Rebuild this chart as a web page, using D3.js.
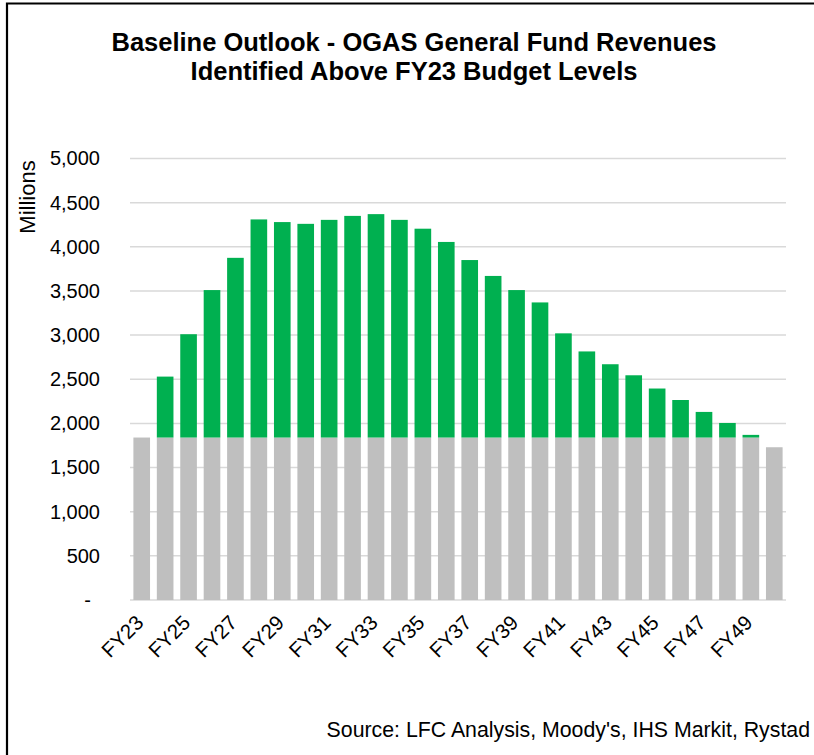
<!DOCTYPE html>
<html>
<head>
<meta charset="utf-8">
<script src="https://cdn.jsdelivr.net/npm/d3@7"></script>
<style>
    body { margin: 0; background: #fff; }
    svg { display: block; font-family: "Liberation Sans", Arial, sans-serif; }
</style>
</head>
<body>
<svg id="chart" width="814" height="755"></svg>
<script>
// fiscal years on the x axis
var years = ["FY23","FY24","FY25","FY26","FY27","FY28","FY29","FY30","FY31","FY32",
             "FY33","FY34","FY35","FY36","FY37","FY38","FY39","FY40","FY41","FY42",
             "FY43","FY44","FY45","FY46","FY47","FY48","FY49","FY50"];

// FY23 budget level part of each bar (grey), in millions
var budgetLevel = [1840,1840,1840,1840,1840,1840,1840,1840,1840,1840,
                   1840,1840,1840,1840,1840,1840,1840,1840,1840,1840,
                   1840,1840,1840,1840,1840,1840,1840,1730];

// revenues identified above the FY23 budget level (green), in millions
var aboveBudget = [0,690,1170,1670,2035,2470,2440,2420,2465,2510,
                   2530,2465,2365,2215,2010,1830,1670,1530,1180,975,
                   830,705,555,425,290,165,30,0];

var yTicks = [0,500,1000,1500,2000,2500,3000,3500,4000,4500,5000];
var xLabels = ["FY23","FY25","FY27","FY29","FY31","FY33","FY35","FY37","FY39","FY41","FY43","FY45","FY47","FY49"];

function drawChart() {

    var svg = d3.select("#chart");

    // plot area (window.top is reserved, so no plain "top" name here)
    var plotLeft = 130, plotRight = 786, plotTop = 158.5, plotBottom = 600;

    var rows = years.map(function (y, i) {
        return { year: y, base: budgetLevel[i], above: aboveBudget[i] };
    });

    var series = d3.stack().keys(["base", "above"])(rows);
    var colors = { base: "#BFBFBF", above: "#00B050" };

    var xScale = d3.scaleBand()
        .domain(years)
        .range([plotLeft, plotRight])
        .paddingInner(0.29)
        .paddingOuter(0.145);

    var yScale = d3.scaleLinear()
        .domain([0, 5000])
        .range([plotBottom, plotTop]);

    // outer frame (only left and top edges are visible)
    svg.append("path")
        .attr("d", "M7,755 L7,3.5 L814,3.5")
        .attr("fill", "none")
        .attr("stroke", "#000")
        .attr("stroke-width", 2.2);

    // gridlines
    svg.append("g")
        .selectAll("line")
        .data(yTicks)
        .enter().append("line")
        .attr("x1", plotLeft)
        .attr("x2", plotRight)
        .attr("y1", function (d) { return yScale(d); })
        .attr("y2", function (d) { return yScale(d); })
        .attr("stroke", "#D9D9D9")
        .attr("stroke-width", 1.5);

    // bars
    svg.append("g")
        .selectAll("g")
        .data(series)
        .enter().append("g")
        .attr("fill", function (d) { return colors[d.key]; })
        .selectAll("rect")
        .data(function (d) { return d; })
        .enter().append("rect")
        .attr("x", function (d) { return xScale(d.data.year); })
        .attr("width", xScale.bandwidth())
        .attr("y", function (d) { return yScale(d[1]); })
        .attr("height", function (d) { return yScale(d[0]) - yScale(d[1]); });

    // y axis
    var yAxis = svg.append("g")
        .attr("transform", "translate(" + (plotLeft - 27) + ",0)")
        .call(d3.axisLeft(yScale)
            .tickValues(yTicks)
            .tickSize(0)
            .tickFormat(function (d) { return d == 0 ? "-" : d3.format(",")(d); }));
    yAxis.select(".domain").remove();
    yAxis.selectAll("text")
        .attr("font-size", 20)
        .attr("font-family", "Liberation Sans, Arial, sans-serif")
        .attr("fill", "#000")
        .attr("dx", function (d) { return d == 0 ? -9 : 0; });

    // x axis labels, rotated
    svg.append("g")
        .selectAll("text")
        .data(xLabels)
        .enter().append("text")
        .attr("transform", function (d) {
            return "translate(" + (xScale(d) + xScale.bandwidth() / 2 + 3) + "," + (plotBottom + 24) + ") rotate(-45)";
        })
        .attr("text-anchor", "end")
        .attr("font-size", 20.5)
        .attr("fill", "#000")
        .text(function (d) { return d; });

    // axis title
    svg.append("text")
        .attr("transform", "translate(35,197) rotate(-90)")
        .attr("text-anchor", "middle")
        .attr("font-size", 22)
        .text("Millions");

    // chart title
    var title = svg.append("text")
        .attr("text-anchor", "middle")
        .attr("font-size", 25.5)
        .attr("font-weight", "bold");
    title.append("tspan").attr("x", 414).attr("y", 51).text("Baseline Outlook - OGAS General Fund Revenues");
    title.append("tspan").attr("x", 414).attr("y", 80).text("Identified Above FY23 Budget Levels");

    // source note
    svg.append("text")
        .attr("x", 810)
        .attr("y", 737)
        .attr("text-anchor", "end")
        .attr("font-size", 21.3)
        .text("Source: LFC Analysis, Moody's, IHS Markit, Rystad");
}

drawChart();
</script>
</body>
</html>
